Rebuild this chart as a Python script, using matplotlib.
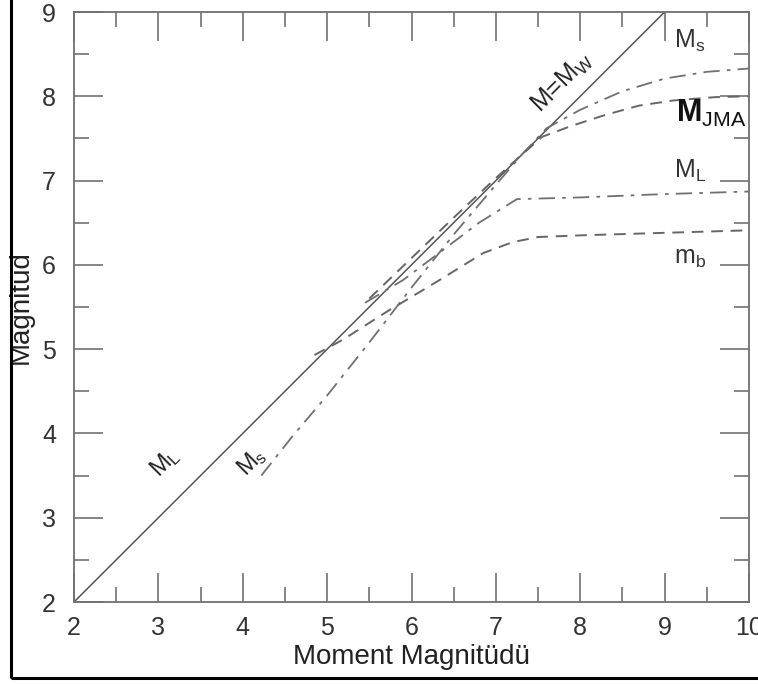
import matplotlib
matplotlib.use("Agg")
import matplotlib.pyplot as plt
from matplotlib.patches import Rectangle
from matplotlib.ticker import MultipleLocator

plt.rcParams['font.family'] = ['Liberation Sans', 'DejaVu Sans']
plt.rcParams['mathtext.fontset'] = 'custom'
plt.rcParams['mathtext.rm'] = 'Liberation Sans'
plt.rcParams['mathtext.it'] = 'Liberation Sans'

# magnitude curves (x = moment magnitude)
mw_x = [2.0, 9.0]
mw_y = [2.0, 9.0]

ms_x = [4.22, 4.6, 5.0, 5.5, 6.0, 6.5, 7.0, 7.3, 7.6, 8.0, 8.5, 9.0, 9.5, 10.0]
ms_y = [3.5, 3.98, 4.45, 5.08, 5.73, 6.36, 6.95, 7.3, 7.62, 7.84, 8.06, 8.21, 8.29, 8.33]

mjma_x = [5.5, 6.0, 6.5, 7.0, 7.3, 7.55, 7.9, 8.3, 8.7, 9.1, 9.6, 10.0]
mjma_y = [5.6, 6.08, 6.56, 7.03, 7.3, 7.52, 7.65, 7.78, 7.89, 7.95, 7.99, 8.0]

ml_x = [5.45, 5.9, 6.3, 6.8, 7.25, 8.0, 9.0, 10.0]
ml_y = [5.55, 5.82, 6.12, 6.5, 6.78, 6.8, 6.84, 6.87]

mb_x = [4.85, 5.2, 5.7, 6.3, 6.85, 7.2, 7.5, 8.0, 9.0, 10.0]
mb_y = [4.93, 5.12, 5.44, 5.8, 6.14, 6.27, 6.33, 6.35, 6.38, 6.41]

fig = plt.figure(figsize=(7.58, 6.84), dpi=100)
ax = fig.add_axes([74 / 758, 82 / 684, 675 / 758, 590 / 684])

dash = (0, (6, 4))
dashdot = (0, (9, 4, 2, 4))

ax.plot(mw_x, mw_y, color='#555555', lw=1.1)
ax.plot(ms_x, ms_y, color='#707070', lw=1.3, ls=dashdot)
ax.plot(mjma_x, mjma_y, color='#666666', lw=1.4, ls=dash)
ax.plot(ml_x, ml_y, color='#707070', lw=1.3, ls=dashdot)
ax.plot(mb_x, mb_y, color='#666666', lw=1.4, ls=dash)

ax.set_xlim(2, 10)
ax.set_ylim(2, 9)
ax.xaxis.set_major_locator(MultipleLocator(1))
ax.xaxis.set_minor_locator(MultipleLocator(0.5))
ax.yaxis.set_major_locator(MultipleLocator(1))
ax.yaxis.set_minor_locator(MultipleLocator(0.5))
ax.tick_params(which='both', direction='in', top=True, right=True,
               color='#666666', width=1.1, labelsize=18, labelcolor='#333333')
ax.tick_params(which='major', length=21)
ax.tick_params(which='minor', length=11)
ax.tick_params(axis='x', pad=10)
ax.tick_params(axis='y', pad=13)
for s in ax.spines.values():
    s.set_color('#707070')
    s.set_linewidth(1.3)

ax.set_xlabel('Moment Magnitüdü', fontsize=20, color='#222222')
ax.set_ylabel('Magnitüd', fontsize=20, color='#222222')
ax.xaxis.set_label_coords(0.5, -0.072)
ax.yaxis.set_label_coords(-0.06, 0.5)

tc = '#222222'
ax.text(7.79, 8.17, 'M=M$_{\\rm W}$', fontsize=18, rotation=45, color=tc,
        ha='center', va='center')
ax.text(9.3, 8.66, 'M$_{\\rm s}$', fontsize=18, color='#333333', ha='center', va='center')
ax.text(9.55, 7.8, 'M$_{\\rm JMA}$', fontsize=22, color='#111111', ha='center', va='center',
        fontweight='bold')
ax.text(9.3, 7.12, 'M$_{\\rm L}$', fontsize=18, color='#333333', ha='center', va='center')
ax.text(9.3, 6.08, 'm$_{\\rm b}$', fontsize=18, color='#333333', ha='center', va='center')
ax.text(3.08, 3.66, 'M$_{\\rm L}$', fontsize=17, rotation=45, color=tc, ha='center', va='center')
ax.text(4.1, 3.66, 'M$_{\\rm s}$', fontsize=17, rotation=45, color=tc, ha='center', va='center')

# black frame round the picture
fig.patches.append(Rectangle((11 / 758, 6 / 684), 760 / 758, 690 / 684,
                             transform=fig.transFigure, fill=False,
                             edgecolor='black', lw=2.2, clip_on=False))

fig.savefig('out.png', dpi=100)
